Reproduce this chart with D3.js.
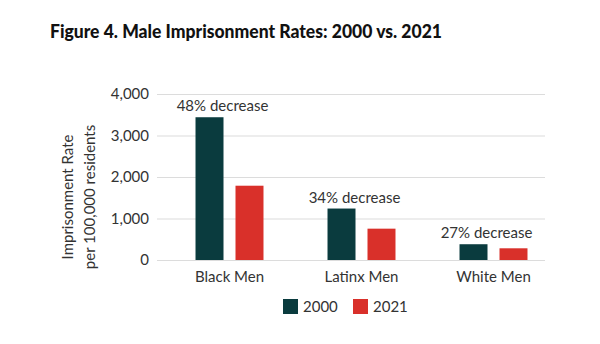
<!DOCTYPE html>
<html>
<head>
<meta charset="utf-8">
<script src="https://cdn.jsdelivr.net/npm/d3@7"></script>
<style>
	body { margin: 0; background: #fff; }
	text { font-family: Lato, "Open Sans", sans-serif; fill: #333; }
</style>
</head>
<body>
<svg width="600" height="344"></svg>
<script>
var groups = ['Black Men', 'Latinx Men', 'White Men'];
var years = ['2000', '2021'];
var rate2000 = [3440, 1240, 380];
var rate2021 = [1790, 755, 282];
var changeLabels = ['48% decrease', '34% decrease', '27% decrease'];
var yTicks = [0, 1000, 2000, 3000, 4000];
var colors = ['#0a3b3e', '#d9302a'];

var svg = d3.select('svg');

var y = d3.scaleLinear()
				.domain([0, 4000])
				.range([260, 94]);

var x0 = d3.scaleBand()
				.domain(groups)
				.range([163.5, 559.5])
				.paddingInner(0.485)
				.paddingOuter(0.2425);

var x1 = d3.scaleBand()
				.domain(years)
				.range([0, x0.bandwidth()])
				.paddingInner(0.3);

var color = d3.scaleOrdinal().domain(years).range(colors);

// title
svg.append('text')
	.attr('x', 50)
	.attr('y', 38)
	.attr('textLength', 392)
	.attr('lengthAdjust', 'spacingAndGlyphs')
	.style('font-size', '18.5px')
	.style('font-weight', 900)
	.style('fill', '#111')
	.text('Figure 4. Male Imprisonment Rates: 2000 vs. 2021');

// gridlines + y labels
var yAxis = d3.axisLeft(y)
				.tickValues(yTicks)
				.tickFormat(d3.format(','))
				.tickSize(-(545 - 157))
				.tickPadding(8);

svg.append('g')
	.attr('transform', 'translate(157,0)')
	.call(yAxis)
	.call(function(g) {
		g.select('.domain').remove();
		g.selectAll('line').attr('stroke', '#dcdcdc').attr('stroke-width', 1.2);
		g.selectAll('text').style('font-size', '15px').style('fill', '#333');
	});

// y title
var yt = svg.append('text')
	.attr('transform', 'translate(73,197) rotate(-90)')
	.attr('text-anchor', 'middle')
	.style('font-size', '15px');
yt.append('tspan').attr('x', 0).attr('dy', 0).text('Imprisonment Rate');
yt.append('tspan').attr('x', 0).attr('dy', 22).text('per 100,000 residents');

// bars
var rows = groups.map(function(g, i) {
	return {group: g, values: [
		{year: years[0], value: rate2000[i]},
		{year: years[1], value: rate2021[i]}
	], label: changeLabels[i]};
});

var gs = svg.append('g').selectAll('g')
	.data(rows)
	.join('g')
	.attr('transform', function(d) { return 'translate(' + x0(d.group) + ',0)'; });

gs.selectAll('rect')
	.data(function(d) { return d.values; })
	.join('rect')
	.attr('x', function(d) { return x1(d.year); })
	.attr('y', function(d) { return y(d.value); })
	.attr('width', x1.bandwidth())
	.attr('height', function(d) { return y(0) - y(d.value); })
	.attr('fill', function(d) { return color(d.year); });

gs.append('text')
	.attr('x', x0.bandwidth() / 2 - 7)
	.attr('y', function(d) { return y(d.values[0].value) - 6; })
	.attr('text-anchor', 'middle')
	.style('font-size', '15px')
	.text(function(d) { return d.label; });

// x labels
svg.append('g').selectAll('text')
	.data(groups)
	.join('text')
	.attr('x', function(d) { return x0(d) + x0.bandwidth() / 2; })
	.attr('y', 282)
	.attr('text-anchor', 'middle')
	.style('font-size', '15px')
	.text(function(d) { return d; });

// legend
var legX = [283, 353];
var leg = svg.append('g').selectAll('g')
	.data(years)
	.join('g')
	.attr('transform', function(d, i) { return 'translate(' + legX[i] + ',299)'; });
leg.append('rect')
	.attr('width', 15)
	.attr('height', 15)
	.attr('fill', function(d) { return color(d); });
leg.append('text')
	.attr('x', 20)
	.attr('y', 13)
	.style('font-size', '15px')
	.text(function(d) { return d; });
</script>
</body>
</html>
